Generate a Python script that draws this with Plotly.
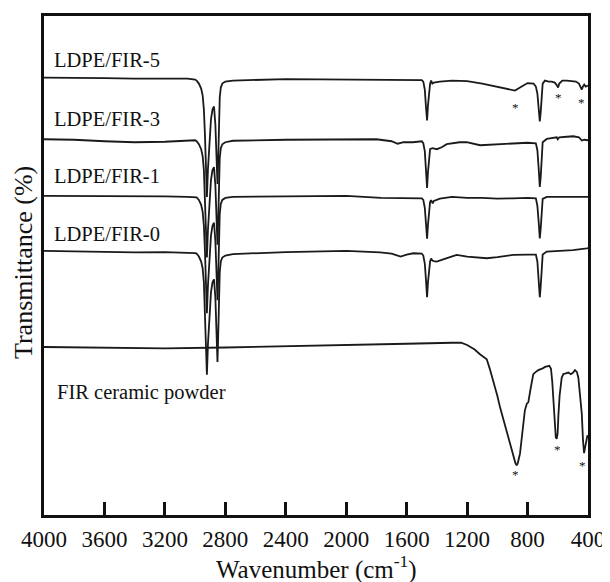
import plotly.graph_objects as go

# ---------------- data ----------------
wn_fir5 = [4000, 3800, 3600, 3400, 3200, 3050, 3000, 2990, 2975, 2960, 2950, 2942, 2935, 2928, 2922,
           2915, 2905, 2895, 2885, 2875, 2866, 2858, 2852, 2847, 2842, 2837, 2830, 2820, 2800, 2750,
           2400, 2000, 1700, 1500, 1490, 1480, 1472, 1465, 1459, 1452, 1445, 1438, 1430, 1420, 1380,
           1300, 1200, 1100, 1000, 920, 883, 850, 800, 760, 745, 735, 727, 719, 713, 707, 700, 685,
           660, 640, 620, 605, 598, 590, 570, 540, 480, 460, 448, 441, 434, 425, 415, 400]
t_fir5 = [440, 440, 439.5, 439, 439, 439, 438, 437, 434, 429, 422, 408, 383, 348, 320,
          348, 378, 398, 408, 411, 393, 358, 333, 358, 393, 420, 430, 434, 436, 437,
          438.5, 438, 438, 437.5, 436, 428, 410, 397, 412, 428, 434, 437, 434, 435, 436,
          437, 436.5, 434, 431, 428, 427, 430, 434.5, 434, 431, 424, 408, 396, 405, 423, 434, 437,
          436, 436, 435, 432, 430, 434, 437, 437, 436, 434, 431, 428, 431, 433, 431, 432]

wn_fir3 = [4000, 3800, 3600, 3400, 3200, 3050, 3000, 2990, 2975, 2960, 2950, 2942, 2935, 2928, 2922,
           2915, 2905, 2895, 2885, 2875, 2866, 2858, 2852, 2847, 2842, 2837, 2830, 2820, 2800, 2750,
           2400, 2000, 1800, 1700, 1660, 1620, 1560, 1500, 1490, 1480, 1472, 1465, 1459, 1452, 1445,
           1430, 1400, 1368, 1335, 1250, 1203, 1114, 1000, 894, 800, 745, 735, 727, 719, 713, 707,
           700, 673, 640, 607, 600, 590, 540, 497, 460, 441, 425, 400]
t_fir3 = [378, 377.5, 376, 375, 375.5, 377, 377, 376, 373, 368, 361, 347, 322, 287, 259,
          287, 317, 337, 347, 350, 332, 297, 272, 297, 332, 359, 369, 373, 375, 376.5,
          377.5, 378, 378, 376, 373.5, 375, 375, 376, 374, 366, 348, 329, 345, 362, 368,
          369, 368, 370, 373, 375, 375, 372, 373, 373.3, 374.5, 374, 367, 350, 330, 340, 362,
          375, 378.3, 379.5, 380, 378, 380, 380.5, 381, 380, 376.7, 377.5, 377]

wn_fir1 = [4000, 3800, 3600, 3400, 3200, 3050, 3000, 2990, 2975, 2960, 2950, 2942, 2935, 2928, 2922,
           2915, 2905, 2895, 2885, 2875, 2866, 2858, 2852, 2847, 2842, 2837, 2830, 2820, 2800, 2750,
           2400, 2000, 1770, 1650, 1560, 1500, 1490, 1480, 1472, 1465, 1459, 1452, 1445, 1438, 1428,
           1420, 1380, 1300, 1200, 1100, 1000, 900, 800, 745, 735, 727, 719, 713, 707, 700, 673,
           600, 500, 400]
t_fir1 = [321, 321, 320.5, 320.5, 320.5, 320, 320, 319.5, 317, 312, 305, 291, 266, 231, 203,
          231, 261, 281, 291, 294, 276, 241, 216, 241, 276, 303, 313, 317, 319, 320,
          320.5, 321, 319, 318.5, 318.3, 318.5, 317, 309, 293, 278, 292, 308, 315, 316.7, 313.5,
          316, 318.3, 320, 319, 319, 318.3, 318.5, 319, 318.5, 311, 296, 278.3, 288, 308, 318, 320,
          320, 320, 320]

wn_fir0 = [4000, 3800, 3600, 3400, 3200, 3050, 3000, 2990, 2975, 2960, 2950, 2942, 2935, 2928, 2922,
           2915, 2905, 2895, 2885, 2875, 2866, 2858, 2852, 2847, 2842, 2837, 2830, 2820, 2800, 2750,
           2400, 2000, 1776, 1700, 1640, 1600, 1556, 1500, 1490, 1480, 1472, 1465, 1459, 1452, 1445,
           1438, 1430, 1420, 1401, 1368, 1300, 1269, 1200, 1070, 1000, 894, 800, 745, 735, 727, 719,
           713, 707, 700, 673, 600, 500, 408, 400]
t_fir0 = [265.7, 265, 264.3, 264.3, 264.5, 264, 263.5, 263, 260, 255, 248, 234, 207, 172, 141,
          172, 203, 224, 234, 237, 219, 184, 154, 182, 217, 244, 255, 259, 261, 262.5,
          264.5, 265.7, 264.3, 263, 260, 262, 263.3, 263, 261, 253, 236, 219, 234, 248, 255,
          258, 256, 255.5, 255, 256.7, 260, 261.7, 260, 258.3, 259.5, 261.7, 262, 262, 255, 238, 219,
          230, 250, 262, 265, 265.5, 266.5, 268.3, 268.5]

wn_cer = [4000, 3600, 3200, 2800, 2400, 2000, 1600, 1300, 1240, 1200, 1150, 1115, 1090, 1070, 1050,
          1026, 1000, 982, 960, 938, 915, 894, 880, 872, 865, 850, 835, 818, 805, 795, 780, 762,
          745, 729, 700, 684, 656, 645, 637, 628, 621, 613, 607, 601, 596, 588, 574, 562, 552,
          530, 514, 500, 486, 474, 464, 455, 447, 441, 433, 426, 419, 413, 404, 400]
t_cer = [169, 168, 167.7, 168.5, 170, 171, 172.3, 173.3, 173.3, 171, 166.5, 161.7, 159, 156.7, 147,
         135, 120, 108.3, 96, 85, 72, 60, 52, 50, 52, 61.7, 80, 105, 112, 113.3, 127, 141.7,
         144, 145.7, 147.5, 149, 150, 147, 135, 110, 90, 78, 76.7, 82, 100, 120, 138.3, 142, 142.3,
         143.3, 141.7, 143, 145.7, 144, 138.3, 125, 110, 101.7, 75, 62.3, 68, 75, 80, 79]

series_names = ["LDPE/FIR-5", "LDPE/FIR-3", "LDPE/FIR-1", "LDPE/FIR-0", "FIR ceramic powder"]
label_wn = [3945, 3945, 3945, 3945, 3925]
label_t = [458, 398, 341, 283, 123]

star_wn = [883, 598, 441, 878, 605, 439]
star_t = [413.3, 423.3, 418.3, 44, 69, 53]

x_ticks = [4000, 3600, 3200, 2800, 2400, 2000, 1600, 1200, 800, 400]

# ---------------- figure ----------------
FONT = "Liberation Serif, Times New Roman, serif"
TXT = "#111111"
LINE_COLOR = "#1a1a1a"

fig = go.Figure()
series = [(wn_fir5, t_fir5), (wn_fir3, t_fir3), (wn_fir1, t_fir1), (wn_fir0, t_fir0), (wn_cer, t_cer)]
for name, (xs, ys) in zip(series_names, series):
    fig.add_trace(go.Scatter(x=xs, y=ys, mode="lines", name=name,
                             line=dict(color=LINE_COLOR, width=1.8), showlegend=False,
                             hoverinfo="skip"))

# asterisks marking the ceramic bands
for xv, yv in zip(star_wn, star_t):
    fig.add_annotation(x=xv, y=yv, text="*", showarrow=False, xanchor="center", yanchor="middle",
                       yshift=-3, font=dict(family=FONT, size=13, color=TXT))

for name, xv, yv in zip(series_names, label_wn, label_t):
    fig.add_annotation(x=xv, y=yv, text=name, showarrow=False, xanchor="left", yanchor="middle",
                       font=dict(family=FONT, size=20.5, color=TXT))

# axis titles
fig.add_annotation(xref="paper", yref="paper", x=0.5, y=-0.105, text="Wavenumber (cm<sup>-1</sup>)",
                   showarrow=False, xanchor="center", yanchor="middle",
                   font=dict(family=FONT, size=25, color=TXT))
fig.add_annotation(xref="paper", yref="paper", x=-0.0386, y=0.505, text="Transmittance (%)",
                   showarrow=False, xanchor="center", yanchor="middle", textangle=-90,
                   font=dict(family=FONT, size=26, color=TXT))

# the page body keeps an 8px default margin, so the figure is 8px smaller
# and its margins are reduced accordingly to keep the plot box in place
fig.update_layout(
    width=602, height=574,
    margin=dict(l=36, r=22, t=5, b=67),
    paper_bgcolor="white", plot_bgcolor="white",
    font=dict(family=FONT, color=TXT),
)
fig.update_xaxes(
    range=[4000, 400], tickvals=x_ticks, ticktext=[str(v) for v in x_ticks],
    ticks="inside", ticklen=13, tickwidth=2.5, tickcolor=TXT,
    showline=True, linewidth=2.5, linecolor=TXT, mirror=True,
    showgrid=False, zeroline=False, ticklabelstandoff=2,
    tickfont=dict(family=FONT, size=23, color=TXT),
)
fig.update_yaxes(
    range=[0, 502], showticklabels=False, ticks="",
    showline=True, linewidth=2.5, linecolor=TXT, mirror=True,
    showgrid=False, zeroline=False,
)

fig.write_html("out.html", config={"displayModeBar": False})
